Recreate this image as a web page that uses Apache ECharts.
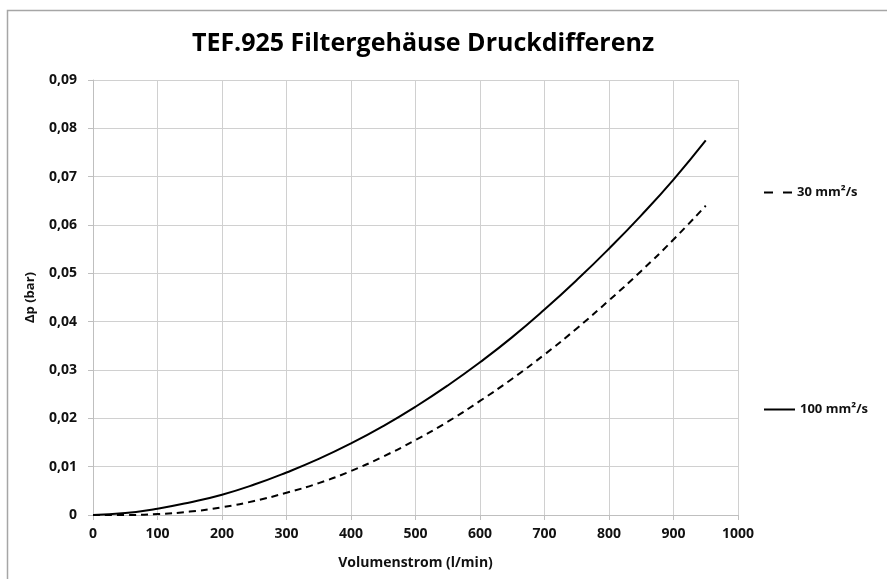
<!DOCTYPE html>
<html>
<head>
<meta charset="utf-8">
<script src="https://cdn.jsdelivr.net/npm/echarts@6/dist/echarts.min.js"></script>
<style>html,body{margin:0;padding:0;background:#fff}#c{width:887px;height:579px}</style>
</head>
<body>
<div id="c"></div>
<script>
const flowValues = [0,50,100,150,200,250,300,350,400,450,500,550,600,650,700,750,800,850,900,950];
const dp30 = [0,0,0.0002,0.0007,0.0016,0.0029,0.0046,0.0066,0.0091,0.0121,0.0155,0.0193,0.0236,0.0282,0.0332,0.0386,0.0444,0.0505,0.0570,0.0640];
const dp100 = [0,0.0004,0.0013,0.0026,0.0042,0.0063,0.0088,0.0116,0.0148,0.0184,0.0224,0.0268,0.0316,0.0368,0.0425,0.0486,0.0551,0.0620,0.0694,0.0775];
const seriesNames = ['30 mm²/s','100 mm²/s'];
const FONT = 'Open Sans';

const chart = echarts.init(document.getElementById('c'), null, {renderer:'canvas'});
const legendText = {fontFamily:FONT, fontWeight:'bold', fontSize:13, color:'#111'};
chart.setOption({
  animation:false,
  backgroundColor:'#fff',
  title:{text:'TEF.925 Filtergehäuse Druckdifferenz', left:418, textAlign:'center', top:26,
    textStyle:{fontFamily:FONT, fontWeight:'bold', fontSize:25, color:'#000'}},
  graphic:[
    {type:'polyline', shape:{points:[[7.5,579],[7.5,10.5],[887,10.5]]}, style:{stroke:'#a6a6a6', lineWidth:1.5, fill:null}}
  ],
  legend:[
    {data:[seriesNames[0]], left:759, top:181, itemWidth:28, itemHeight:2, itemGap:6,
      icon:'path://M0,0H9V2H0Z M19,0H28V2H19Z', textStyle:legendText, itemStyle:{color:'#000'}},
    {data:[seriesNames[1]], left:759, top:398, itemWidth:31, itemHeight:2, itemGap:5,
      icon:'path://M0,0H31V2H0Z', textStyle:legendText, itemStyle:{color:'#000'}}
  ],
  grid:{left:93, right:149, top:80, bottom:64, containLabel:false},
  xAxis:{type:'value', min:0, max:1000, interval:100,
    name:'Volumenstrom (l/min)', nameLocation:'middle', nameGap:41,
    nameTextStyle:{fontFamily:FONT, fontWeight:'bold', fontSize:14, color:'#111'},
    axisLine:{show:true, lineStyle:{color:'#bfbfbf'}},
    axisTick:{show:true, length:5, lineStyle:{color:'#bfbfbf'}},
    axisLabel:{fontFamily:FONT, fontWeight:'bold', fontSize:14, color:'#111', margin:12,
      formatter:v=>String(v)},
    splitLine:{show:true, lineStyle:{color:'#d0d0d0'}}},
  yAxis:{type:'value', min:0, max:0.09, interval:0.01,
    name:'Δp (bar)', nameLocation:'middle', nameGap:56, nameRotate:90,
    nameTextStyle:{fontFamily:FONT, fontWeight:'bold', fontSize:13, color:'#111'},
    axisLine:{show:true, lineStyle:{color:'#bfbfbf'}},
    axisTick:{show:true, length:5, lineStyle:{color:'#bfbfbf'}},
    axisLabel:{fontFamily:FONT, fontWeight:'bold', fontSize:14, color:'#111', margin:16,
      formatter:v=> v===0 ? '0' : v.toFixed(2).replace('.',',')},
    splitLine:{show:true, lineStyle:{color:'#d0d0d0'}}},
  series:[
    {name:seriesNames[0], type:'line', smooth:true, showSymbol:false, symbol:'none',
      data:flowValues.map((x,i)=>[x,dp30[i]]),
      lineStyle:{color:'#000', width:2, type:[7,5]}, itemStyle:{color:'#000'}},
    {name:seriesNames[1], type:'line', smooth:true, showSymbol:false, symbol:'none',
      data:flowValues.map((x,i)=>[x,dp100[i]]),
      lineStyle:{color:'#000', width:2}, itemStyle:{color:'#000'}}
  ]
});
</script>
</body>
</html>
